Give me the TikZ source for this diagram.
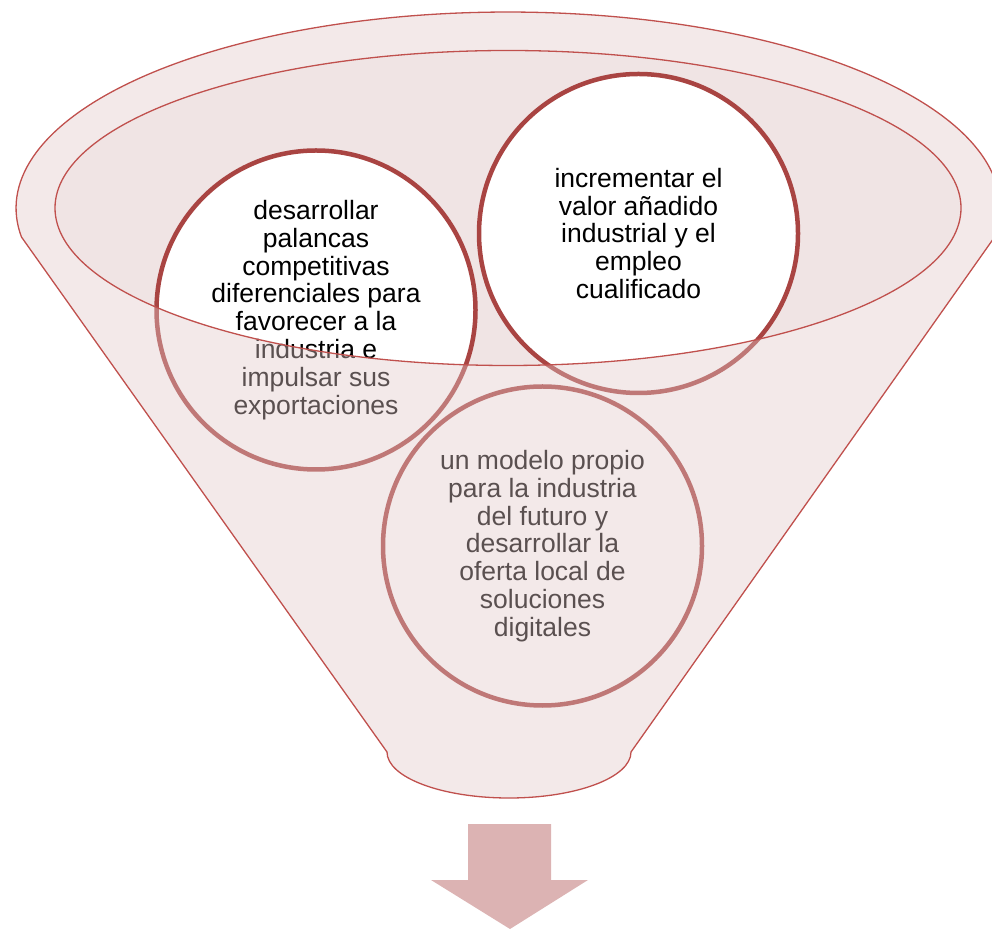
\documentclass[tikz,border=0pt]{standalone}
\usepackage{fontspec}
\setmainfont{Liberation Sans}
\usepackage{tikz}

\definecolor{rim}{RGB}{192,80,77}
\definecolor{ring}{RGB}{169,68,66}
\definecolor{cup}{RGB}{240,228,228}
\definecolor{veil}{RGB}{225,200,200}
\definecolor{arrowfill}{RGB}{220,179,179}

\begin{document}
\begin{tikzpicture}[x=1pt, y=1pt, goal/.style = {draw=ring, line width=4.5pt, fill=white, circle, minimum size=319pt, inner sep=0pt, align=center, font=\fontsize{26.5}{27.8}\selectfont}, edge/.style = {draw=rim, line width=1.3pt}]
\useasboundingbox (0,0) rectangle (992,929);
\fill[cup] (508,721) ellipse [x radius=453, y radius=157.5];
\node[goal] (lev) at (316,619) {desarrollar\\palancas\\competitivas\\diferenciales para\\favorecer a la\\industria e\\impulsar sus\\exportaciones};
\node[goal] (val) at (638.5,695.5) {incrementar el\\valor añadido\\industrial y el\\empleo\\cualificado};
\node[goal] (mod) at (542.5,383) {un modelo propio\\para la industria\\del futuro y\\desarrollar la\\oferta local de\\soluciones\\digitales};
\fill[veil, opacity=0.4, even odd rule] (994.6,692) arc[start angle=-8.5, end angle=188.5, x radius=492, y radius=196] -- (387,177) arc[start angle=180, end angle=360, x radius=122, y radius=46] -- cycle (508,721) ellipse [x radius=453, y radius=157.5];
\draw[edge] (994.6,692) arc[start angle=-8.5, end angle=188.5, x radius=492, y radius=196] -- (387,177) arc[start angle=180, end angle=360, x radius=122, y radius=46] -- cycle;
\draw[edge] (508,721) ellipse [x radius=453, y radius=157.5];
\fill[arrowfill] (468,105) -- (551,105) -- (551,49) -- (588,49) -- (510,0) -- (431,49) -- (468,49) -- cycle;
\end{tikzpicture}
\end{document}
